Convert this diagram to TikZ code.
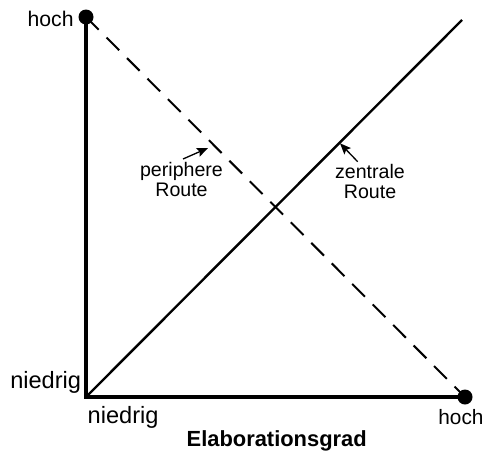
\documentclass[tikz,border=0pt]{standalone}
\usepackage{fontspec}
\setmainfont{Liberation Sans}
\usetikzlibrary{arrows.meta,positioning}

\tikzset{
  axisline/.style={line width=2pt},
  routeline/.style={line width=1.2pt},
  pointer/.style={->,line width=0.65pt},
  ticklabel/.style={inner sep=0pt},
  routelabel/.style={inner sep=0pt,align=center,anchor=north,
    font=\fontsize{9.8}{10}\selectfont},
}

\begin{document}
\begin{tikzpicture}[x=0.5pt,y=-0.5pt, font=\fontsize{11}{13}\selectfont,
  >={Stealth[length=5.5pt,width=4.5pt,inset=1pt]}, line join=miter]
\useasboundingbox (0,0) rectangle (486,450);

% ---------- corners ----------
\coordinate (origin) at (86,397);
\coordinate (ytop)   at (86,17);
\coordinate (xright) at (465,397);
\coordinate (zend)   at (462,20);

% ---------- axes and routes ----------
\draw[axisline] (ytop) -- (origin) -- (xright);
\draw[routeline] (origin) -- (zend);
\draw[line width=1pt,dash pattern=on 9pt off 5.5pt] (ytop) -- (xright);
\fill (ytop) circle (3.75pt);
\fill (xright) circle (3.75pt);

% ---------- axis labels ----------
\node[ticklabel,anchor=base east,font=\fontsize{10.6}{13}\selectfont] (yhigh) at (74,26) {hoch};
\node[ticklabel,anchor=base east,font=\fontsize{11.8}{13}\selectfont] (ylow) at (81.5,388) {niedrig};
\node[ticklabel,anchor=base west,font=\fontsize{11.8}{13}\selectfont] (xlow) at (87.3,423) {niedrig};
\node[ticklabel,anchor=base west,font=\fontsize{10.4}{13}\selectfont] (xhigh) at (438,424) {hoch};
\node[ticklabel,anchor=base,font=\fontsize{10.95}{13}\selectfont\bfseries] (xtitle) at (276.7,446) {Elaborationsgrad};

% ---------- route labels ----------
\node[routelabel] (peri) at (181.5,161.4) {periphere\\Route};
\node[routelabel] (zent) at (370,163.4) {zentrale\\Route};
\coordinate (peritip) at (208,148);
\coordinate (zenttip) at (340,143.3);
\draw[pointer] ([xshift=0.75pt,yshift=1.2pt]peri.north) -- (peritip);
\draw[pointer] ([xshift=-6.15pt,yshift=0.85pt]zent.north) -- (zenttip);

\end{tikzpicture}
\end{document}
